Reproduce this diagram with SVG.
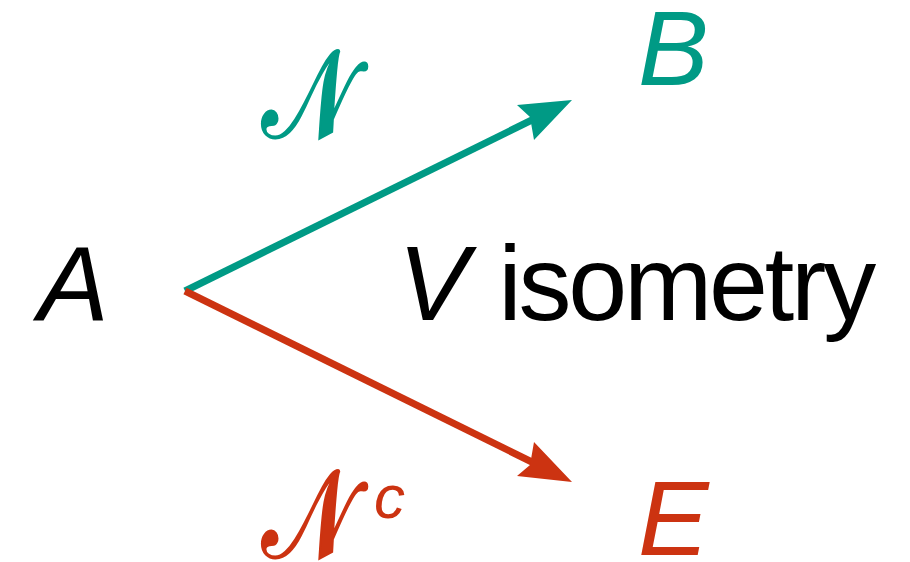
<svg xmlns="http://www.w3.org/2000/svg" width="910" height="562" viewBox="0 0 910 562">
<style>
.t{font-family:"Liberation Sans","DejaVu Sans",sans-serif;font-size:106px}
.it{font-style:italic}
.teal{fill:#009A85}
.red{fill:#CC3311}
.k{fill:#000}
.cal{font-family:"DejaVu Serif","DejaVu Sans",serif;font-size:110px;stroke-width:2.5}
</style>
<rect width="910" height="562" fill="#fff"/>
<g id="connectors" stroke-width="7" fill="none">
<line x1="185" y1="291" x2="540" y2="116" stroke="#009A85"/>
<polygon points="572,100 517,105 530,117 534,140" fill="#009A85" stroke="none"/>
<line x1="185" y1="291" x2="540" y2="466" stroke="#CC3311"/>
<polygon points="572,482 534,442 530,465 517,476" fill="#CC3311" stroke="none"/>
</g>
<g id="node-A"><text class="t it k" x="38" y="320">A</text></g>
<g id="node-B"><text class="t it teal" x="638" y="85">B</text></g>
<g id="node-E"><text class="t it red" x="638" y="555">E</text></g>
<g id="label-N"><text class="cal teal" stroke="#009A85" transform="translate(262,137) scale(0.88,1.12)">𝒩</text></g>
<g id="label-Nc"><text class="cal red" stroke="#CC3311" transform="translate(262,557) scale(0.88,1.12)">𝒩</text><text class="t it red" x="374" y="518" style="font-size:62px">c</text></g>
<g id="label-V"><text class="t k" x="398" y="320"><tspan class="it">V</tspan> <tspan textLength="378">isometry</tspan></text></g>
</svg>
